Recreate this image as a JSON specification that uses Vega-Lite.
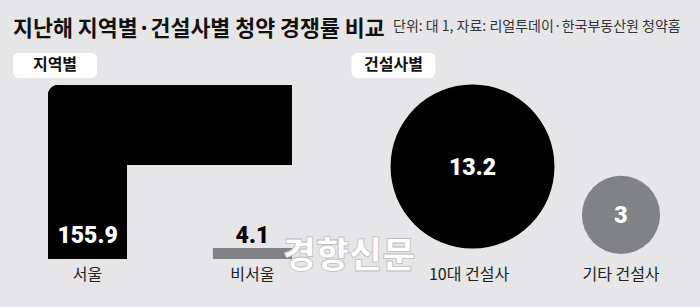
{
  "$schema": "https://vega.github.io/schema/vega-lite/v6.json",
  "width": 700,
  "height": 307,
  "autosize": {"type": "fit", "contains": "padding"},
  "padding": 0,
  "background": "#e6e6e8",
  "config": {"view": {"stroke": null}},
  "datasets": {
    "region": [
      {"name": "서울", "value": 155.9},
      {"name": "비서울", "value": 4.1}
    ],
    "builder": [
      {"name": "10대 건설사", "value": 13.2},
      {"name": "기타 건설사", "value": 3}
    ],
    "titles": [
      {"title": "지난해 지역별·건설사별 청약 경쟁률 비교", "subtitle": "단위: 대 1, 자료: 리얼투데이·한국부동산원 청약홈"}
    ],
    "panels": [
      {"panel": "지역별"},
      {"panel": "건설사별"}
    ],
    "mark": [{"text": "경향신문"}]
  },
  "resolve": {"scale": {"x": "independent", "y": "independent", "color": "independent", "size": "independent"}},
  "layer": [
    {
      "data": {"name": "titles"},
      "mark": {"type": "text", "font": "Noto Sans CJK KR", "fontWeight": 700, "fontSize": 21.7, "align": "left", "baseline": "alphabetic", "color": "#111"},
      "encoding": {"x": {"value": 13}, "y": {"value": 35.5}, "text": {"field": "title"}}
    },
    {
      "data": {"name": "titles"},
      "mark": {"type": "text", "font": "Noto Sans CJK KR", "fontWeight": 400, "fontSize": 14, "align": "left", "baseline": "alphabetic", "color": "#333"},
      "encoding": {"x": {"value": 393}, "y": {"value": 31}, "text": {"field": "subtitle"}}
    },
    {
      "data": {"name": "panels"},
      "mark": {"type": "bar", "color": "white", "cornerRadius": 6, "height": 25, "width": 84},
      "encoding": {
        "x": {"field": "panel", "type": "nominal", "scale": {"type": "point", "domain": ["지역별", "건설사별"], "range": [55, 393.5], "padding": 0}, "axis": null},
        "y": {"value": 65.5}
      }
    },
    {
      "data": {"name": "panels"},
      "mark": {"type": "text", "font": "Noto Sans CJK KR", "fontWeight": 700, "fontSize": 16, "baseline": "middle", "color": "#111"},
      "encoding": {
        "x": {"field": "panel", "type": "nominal", "scale": {"type": "point", "domain": ["지역별", "건설사별"], "range": [55, 393.5], "padding": 0}, "axis": null},
        "y": {"value": 65},
        "text": {"field": "panel"}
      }
    },
    {
      "mark": {"type": "rule", "color": "#999", "strokeDash": [1.5, 1.5], "strokeWidth": 1},
      "encoding": {"x": {"value": 336}, "y": {"value": 52}, "y2": {"value": 288}}
    },
    {
      "data": {"name": "region"},
      "transform": [{"filter": "datum.name === '비서울'"}],
      "mark": {"type": "bar", "color": "#808285"},
      "encoding": {
        "x": {"field": "name", "type": "nominal", "scale": {"type": "band", "domain": ["서울", "비서울"], "range": [48, 292], "paddingInner": 0.52, "paddingOuter": 0}, "axis": null},
        "y": {"field": "value", "type": "quantitative", "scale": {"domain": [0, 64.9], "range": [259, 85], "clamp": true, "nice": false}, "axis": null}
      }
    },
    {
      "data": {"name": "region"},
      "transform": [{"filter": "datum.name === '서울'"}],
      "mark": {"type": "bar", "color": "#000", "cornerRadiusTopLeft": 10},
      "encoding": {
        "x": {"field": "name", "type": "nominal", "scale": {"type": "band", "domain": ["서울", "비서울"], "range": [48, 292], "paddingInner": 0.52, "paddingOuter": 0}, "axis": null},
        "y": {"field": "value", "type": "quantitative", "scale": {"domain": [0, 64.9], "range": [259, 85], "clamp": true, "nice": false}, "axis": null}
      }
    },
    {
      "data": {"name": "region"},
      "transform": [{"filter": "datum.name === '서울'"}],
      "mark": {"type": "rect", "color": "#000", "cornerRadiusTopLeft": 10},
      "encoding": {
        "x": {"field": "value", "type": "quantitative", "scale": {"domain": [64.9, 155.9], "range": [48, 292], "nice": false, "zero": false}, "axis": null},
        "x2": {"datum": 64.9},
        "y": {"datum": 64.9, "type": "quantitative", "scale": {"domain": [0, 64.9], "range": [259, 85], "nice": false}, "axis": null},
        "y2": {"datum": 35.1}
      }
    },
    {
      "data": {"name": "region"},
      "mark": {"type": "text", "font": "Roboto", "fontWeight": 900, "fontSize": 23, "baseline": "alphabetic", "dy": -16},
      "encoding": {
        "x": {"field": "name", "type": "nominal", "scale": {"type": "band", "domain": ["서울", "비서울"], "range": [48, 292], "paddingInner": 0.52, "paddingOuter": 0}, "axis": null},
        "y": {"datum": 0, "type": "quantitative", "scale": {"domain": [0, 64.9], "range": [259, 85], "nice": false}, "axis": null},
        "text": {"field": "value", "type": "quantitative", "format": ".1f"},
        "color": {"field": "name", "type": "nominal", "scale": {"domain": ["서울", "비서울"], "range": ["#ffffff", "#000000"]}, "legend": null}
      }
    },
    {
      "data": {"name": "region"},
      "mark": {"type": "text", "font": "Noto Sans CJK KR", "fontWeight": 400, "fontSize": 16, "baseline": "alphabetic", "dy": 21, "color": "#222"},
      "encoding": {
        "x": {"field": "name", "type": "nominal", "scale": {"type": "band", "domain": ["서울", "비서울"], "range": [48, 292], "paddingInner": 0.52, "paddingOuter": 0}, "axis": null},
        "y": {"datum": 0, "type": "quantitative", "scale": {"domain": [0, 64.9], "range": [259, 85], "nice": false}, "axis": null},
        "text": {"field": "name"}
      }
    },
    {
      "data": {"name": "builder"},
      "mark": {"type": "point", "shape": "circle", "filled": true, "opacity": 1, "strokeWidth": 0},
      "encoding": {
        "x": {"field": "name", "type": "nominal", "scale": {"type": "point", "domain": ["10대 건설사", "기타 건설사"], "range": [472.5, 621], "padding": 0}, "axis": null},
        "y": {"field": "value", "type": "quantitative", "scale": {"type": "sqrt", "domain": [0, 13.2], "range": [259, 166.5], "nice": false, "zero": true}, "axis": null},
        "size": {"field": "value", "type": "quantitative", "scale": {"type": "linear", "domain": [0, 13.2], "range": [0, 26880], "zero": true}, "legend": null},
        "color": {"field": "name", "type": "nominal", "scale": {"domain": ["10대 건설사", "기타 건설사"], "range": ["#000000", "#808285"]}, "legend": null}
      }
    },
    {
      "data": {"name": "builder"},
      "mark": {"type": "text", "font": "Roboto", "fontWeight": 900, "fontSize": 23, "baseline": "middle", "dy": 1, "color": "#ffffff"},
      "encoding": {
        "x": {"field": "name", "type": "nominal", "scale": {"type": "point", "domain": ["10대 건설사", "기타 건설사"], "range": [472.5, 621], "padding": 0}, "axis": null},
        "y": {"field": "value", "type": "quantitative", "scale": {"type": "sqrt", "domain": [0, 13.2], "range": [259, 166.5], "nice": false, "zero": true}, "axis": null},
        "text": {"field": "value", "type": "quantitative", "format": ".3~f"}
      }
    },
    {
      "data": {"name": "builder"},
      "mark": {"type": "text", "font": "Noto Sans CJK KR", "fontWeight": 400, "fontSize": 16, "baseline": "alphabetic", "dy": 21, "color": "#222"},
      "encoding": {
        "x": {"field": "name", "type": "nominal", "scale": {"type": "point", "domain": ["10대 건설사", "기타 건설사"], "range": [469, 621], "padding": 0}, "axis": null},
        "y": {"datum": 0, "type": "quantitative", "scale": {"type": "sqrt", "domain": [0, 13.2], "range": [259, 166.5], "nice": false, "zero": true}, "axis": null},
        "text": {"field": "name"}
      }
    },
    {
      "data": {"name": "mark"},
      "mark": {"type": "text", "font": "Noto Sans CJK KR", "fontWeight": 900, "fontSize": 36, "baseline": "alphabetic", "align": "center", "fill": "#ffffff", "stroke": "#bcbcbe", "strokeWidth": 0.8, "opacity": 0.95},
      "encoding": {"x": {"value": 349}, "y": {"value": 268}, "text": {"field": "text"}}
    }
  ]
}
